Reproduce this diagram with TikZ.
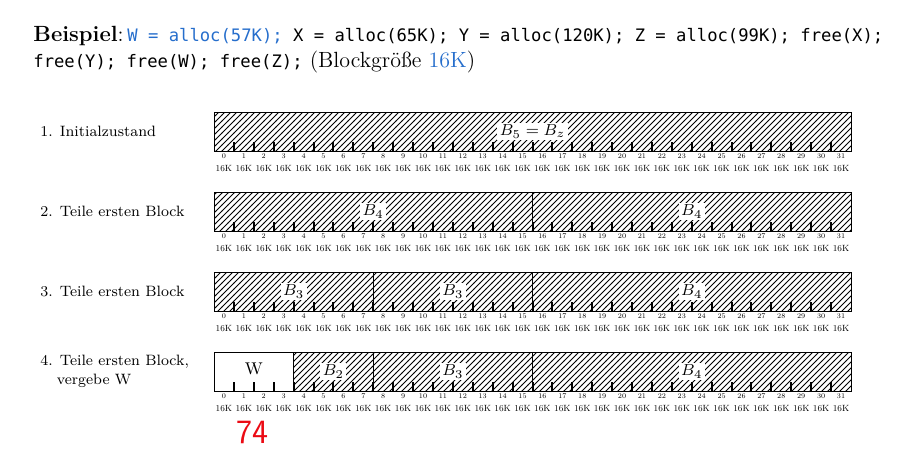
\documentclass[tikz,border=0pt]{standalone}
\usepackage{fontspec}
\newfontfamily\codefont{DejaVu Sans Mono}
\usepackage{xcolor}
\usetikzlibrary{patterns,positioning}
\definecolor{codeblue}{RGB}{38,110,204}
\definecolor{penred}{RGB}{235,10,20}
\newcommand{\cellw}{19.906}
% ruler under a memory row: #1 = y of the lower edge
\newcommand{\memruler}[1]{%
  \foreach \i in {1,...,31} \draw[tickmark] (214+\i*\cellw,#1) -- ++(0,-9);
  \foreach \i in {0,...,31} {
    \node[cellno] (n#1-\i) at (214+\i*\cellw+0.5*\cellw,#1+5.5) {\scalebox{0.5}{\i}};
    \node[cellsize] (k#1-\i) at (214+\i*\cellw+0.5*\cellw,#1+17.5) {\scalebox{0.5}{16K}};
  }}

\begin{document}
\begin{tikzpicture}[x=0.5pt,y=-0.5pt,
  blk/.style={draw,line width=0.5pt,pattern=north east lines},
  freeblk/.style={draw,line width=0.5pt,fill=white},
  blklabel/.style={fill=white,inner sep=1.2pt,font=\fontsize{8.5}{10}\selectfont},
  tickmark/.style={line width=1pt},
  cellno/.style={inner sep=0pt,font=\fontsize{7.2}{8}\selectfont},
  cellsize/.style={inner sep=0pt,font=\fontsize{9}{10}\selectfont},
  rowlabel/.style={anchor=west,align=left,inner sep=0pt,font=\fontsize{7.5}{9.5}\selectfont}]
\useasboundingbox (0,0) rectangle (910,463);
\node[anchor=base west,inner sep=0pt,font=\fontsize{11}{13}\selectfont] (head1) at (33,41)
  {\textbf{Beispiel}:\,{\codefont\fontsize{8.6}{13}\selectfont\color{codeblue}W = alloc(57K);}%
   {\codefont\fontsize{8.6}{13}\selectfont{} X = alloc(65K); Y = alloc(120K); Z = alloc(99K); free(X);}};
\node[anchor=base west,inner sep=0pt,font=\fontsize{11}{13}\selectfont] (head2) at (33,67)
  {{\codefont\fontsize{8.6}{13}\selectfont free(Y); free(W); free(Z);} (Blockgröße \textcolor{codeblue}{16K})};

\node[rowlabel] (lab1) at (40,131.5) {1. Initialzustand};
\node[rowlabel] (lab2) at (40,211.5) {2. Teile ersten Block};
\node[rowlabel] (lab3) at (40,291.5) {3. Teile ersten Block};
\node[rowlabel] (lab4) at (40,371) {4. Teile ersten Block,\\\hspace*{1.1em}vergebe W};

% 1. initial state
\draw[blk] (214,112) rectangle (851,151);
\node[blklabel] (b5) at (532.5,131.5) {$B_5 = B_z$};
\memruler{151}

% 2. split
\draw[blk] (214,192) rectangle (532.5,231);
\draw[blk] (532.5,192) rectangle (851,231);
\node[blklabel] (b4a) at (373.25,211.5) {$B_4$};
\node[blklabel] (b4b) at (691.75,211.5) {$B_4$};
\memruler{231}

% 3. split again
\draw[blk] (214,272) rectangle (373.25,311);
\draw[blk] (373.25,272) rectangle (532.5,311);
\draw[blk] (532.5,272) rectangle (851,311);
\node[blklabel] (b3a) at (293.6,291.5) {$B_3$};
\node[blklabel] (b3b) at (452.9,291.5) {$B_3$};
\node[blklabel] (b4c) at (691.75,291.5) {$B_4$};
\memruler{311}

% 4. split, give W
\draw[freeblk] (214,352) rectangle (293.6,391);
\draw[blk] (293.6,352) rectangle (373.25,391);
\draw[blk] (373.25,352) rectangle (532.5,391);
\draw[blk] (532.5,352) rectangle (851,391);
\node[font=\fontsize{8.5}{10}\selectfont] (w) at (253.8,369) {W};
\node[blklabel] (b2) at (333.4,371.5) {$B_2$};
\node[blklabel] (b3c) at (452.9,371.5) {$B_3$};
\node[blklabel] (b4d) at (691.75,371.5) {$B_4$};
\memruler{391}

\node[text=penred,font=\sffamily\fontsize{17}{18}\selectfont] (note) at (252,432) {74};
\end{tikzpicture}
\end{document}
